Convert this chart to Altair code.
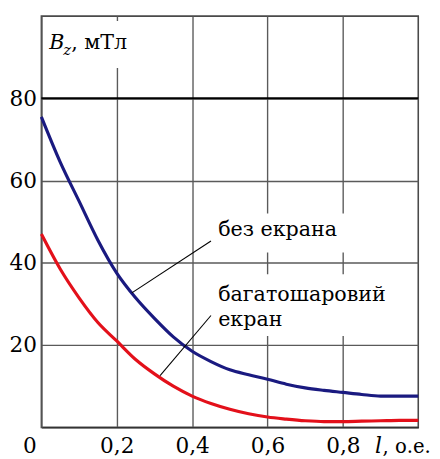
import altair as alt
import pandas as pd

# ---- data ----
l_vals = [0.0, 0.05, 0.10, 0.15, 0.20, 0.25, 0.30, 0.35, 0.40, 0.45, 0.50,
          0.55, 0.60, 0.65, 0.70, 0.75, 0.80, 0.85, 0.90, 0.95, 1.0]
bz_no_screen = [75.5, 64.5, 55.0, 45.5, 37.5, 31.5, 26.5, 22.0, 18.5, 16.0, 14.0,
                12.8, 11.7, 10.5, 9.6, 9.0, 8.5, 8.0, 7.6, 7.6, 7.6]
bz_multilayer = [47.0, 38.5, 31.5, 25.5, 21.0, 16.5, 13.0, 10.0, 7.6, 5.8, 4.4,
                 3.3, 2.5, 2.0, 1.6, 1.4, 1.4, 1.5, 1.6, 1.7, 1.7]
series_names = ["без екрана", "багатошаровий екран"]
series_colors = ["#1a1a80", "#e3101a"]
x_ticks = [0.2, 0.4, 0.6, 0.8]
y_ticks = [20, 40, 60, 80]
ref_line = [80]

# annotation layout (data coordinates)
ann_text = ["без екрана", "багатошаровий", "екран"]
ann_x = [0.469, 0.469, 0.469]
ann_y = [46.5, 30.8, 24.6]
box_x = [0.005, 0.455, 0.455]
box_x2 = [0.23, 0.85, 0.90]
box_y = [87.4, 42.5, 22.2]
box_y2 = [98.8, 52.0, 37.2]
lead_x = [0.45, 0.45]
lead_x2 = [0.24, 0.315]
lead_y = [45.3, 27.2]
lead_y2 = [32.7, 12.6]

FONT = "DejaVu Serif"

curves = pd.DataFrame({
    "x": l_vals * 2,
    "y": bz_no_screen + bz_multilayer,
    "series": [series_names[0]] * len(l_vals) + [series_names[1]] * len(l_vals),
})

xs = alt.Scale(domain=[0, 1], nice=False, zero=False)
ys = alt.Scale(domain=[0, 100], nice=False, zero=False)

xaxis = alt.Axis(values=x_ticks, title=None, grid=True, gridColor="#5a5a5a",
                 gridWidth=1.4, domainColor="#333", domainWidth=1.6,
                 ticks=False, tickSize=0,
                 labelExpr="replace(format(datum.value, '.1f'), '.', ',')",
                 labelFont=FONT, labelFontSize=22, labelColor="black",
                 labelBaseline="alphabetic", labelPadding=26, labelFlush=False)
yaxis = alt.Axis(values=y_ticks, title=None, grid=True, gridColor="#5a5a5a",
                 gridWidth=1.4, domainColor="#555", domainWidth=1.6,
                 ticks=False, tickSize=0, labelFont=FONT, labelFontSize=22,
                 labelColor="black", labelPadding=5, labelAlign="right",
                 labelBaseline="middle", format="d")

X = alt.X("x:Q", scale=xs, axis=xaxis)
Y = alt.Y("y:Q", scale=ys, axis=yaxis)

boxes = alt.Chart(pd.DataFrame({"x": box_x, "x2": box_x2, "y": box_y, "y2": box_y2})).mark_rect(
    color="white").encode(x=X, x2="x2:Q", y=Y, y2="y2:Q")

r80 = alt.Chart(pd.DataFrame({"y": ref_line})).mark_rule(color="black", strokeWidth=2).encode(y=Y)

lines = alt.Chart(curves).mark_line(strokeWidth=3.2, interpolate="monotone").encode(
    x=X, y=Y,
    color=alt.Color("series:N", scale=alt.Scale(domain=series_names, range=series_colors), legend=None),
    detail="series:N",
)

leaders = alt.Chart(pd.DataFrame({"x": lead_x, "x2": lead_x2, "y": lead_y, "y2": lead_y2})).mark_rule(
    color="black", strokeWidth=1.1).encode(x=X, x2="x2:Q", y=Y, y2="y2:Q")

ann = alt.Chart(pd.DataFrame({"x": ann_x, "y": ann_y, "t": ann_text})).mark_text(
    font=FONT, fontSize=21, align="left", baseline="alphabetic", color="black").encode(
    x=X, y=Y, text="t:N")

# axis unit labels
ylab_b = alt.Chart(pd.DataFrame({"x": [0.021], "y": [92.1], "t": ["B"]})).mark_text(
    font=FONT, fontSize=21, fontStyle="italic", align="left", baseline="alphabetic",
    color="black").encode(x=X, y=Y, text="t:N")
ylab_z = alt.Chart(pd.DataFrame({"x": [0.058], "y": [90.6], "t": ["z"]})).mark_text(
    font=FONT, fontSize=15, fontStyle="italic", align="left", baseline="alphabetic",
    color="black").encode(x=X, y=Y, text="t:N")
ylab_u = alt.Chart(pd.DataFrame({"x": [0.079], "y": [92.1], "t": [", мТл"]})).mark_text(
    font=FONT, fontSize=21, align="left", baseline="alphabetic",
    color="black").encode(x=X, y=Y, text="t:N")

xlab_0 = alt.Chart(pd.DataFrame({"x": [-0.012], "y": [-6.2], "t": ["0"]})).mark_text(
    font=FONT, fontSize=22, align="right", baseline="alphabetic",
    color="black").encode(x=X, y=Y, text="t:N")
xlab_l = alt.Chart(pd.DataFrame({"x": [0.885], "y": [-6.2], "t": ["l"]})).mark_text(
    font=FONT, fontSize=22, fontStyle="italic", align="left", baseline="alphabetic",
    color="black").encode(x=X, y=Y, text="t:N")
xlab_u = alt.Chart(pd.DataFrame({"x": [0.905], "y": [-6.2], "t": [", о.е."]})).mark_text(
    font=FONT, fontSize=20, align="left", baseline="alphabetic",
    color="black").encode(x=X, y=Y, text="t:N")

chart = alt.layer(boxes, r80, lines, leaders, ann, ylab_b, ylab_z, ylab_u,
                  xlab_0, xlab_l, xlab_u).properties(
    width=384, height=419,
    padding={"left": 34, "top": 4, "right": 14, "bottom": 28},
    autosize="none",
    background="white",
).configure_view(stroke="#4a4a4a", strokeWidth=1.6)

chart.save("out.html", embed_options={"renderer": "svg", "actions": False})
